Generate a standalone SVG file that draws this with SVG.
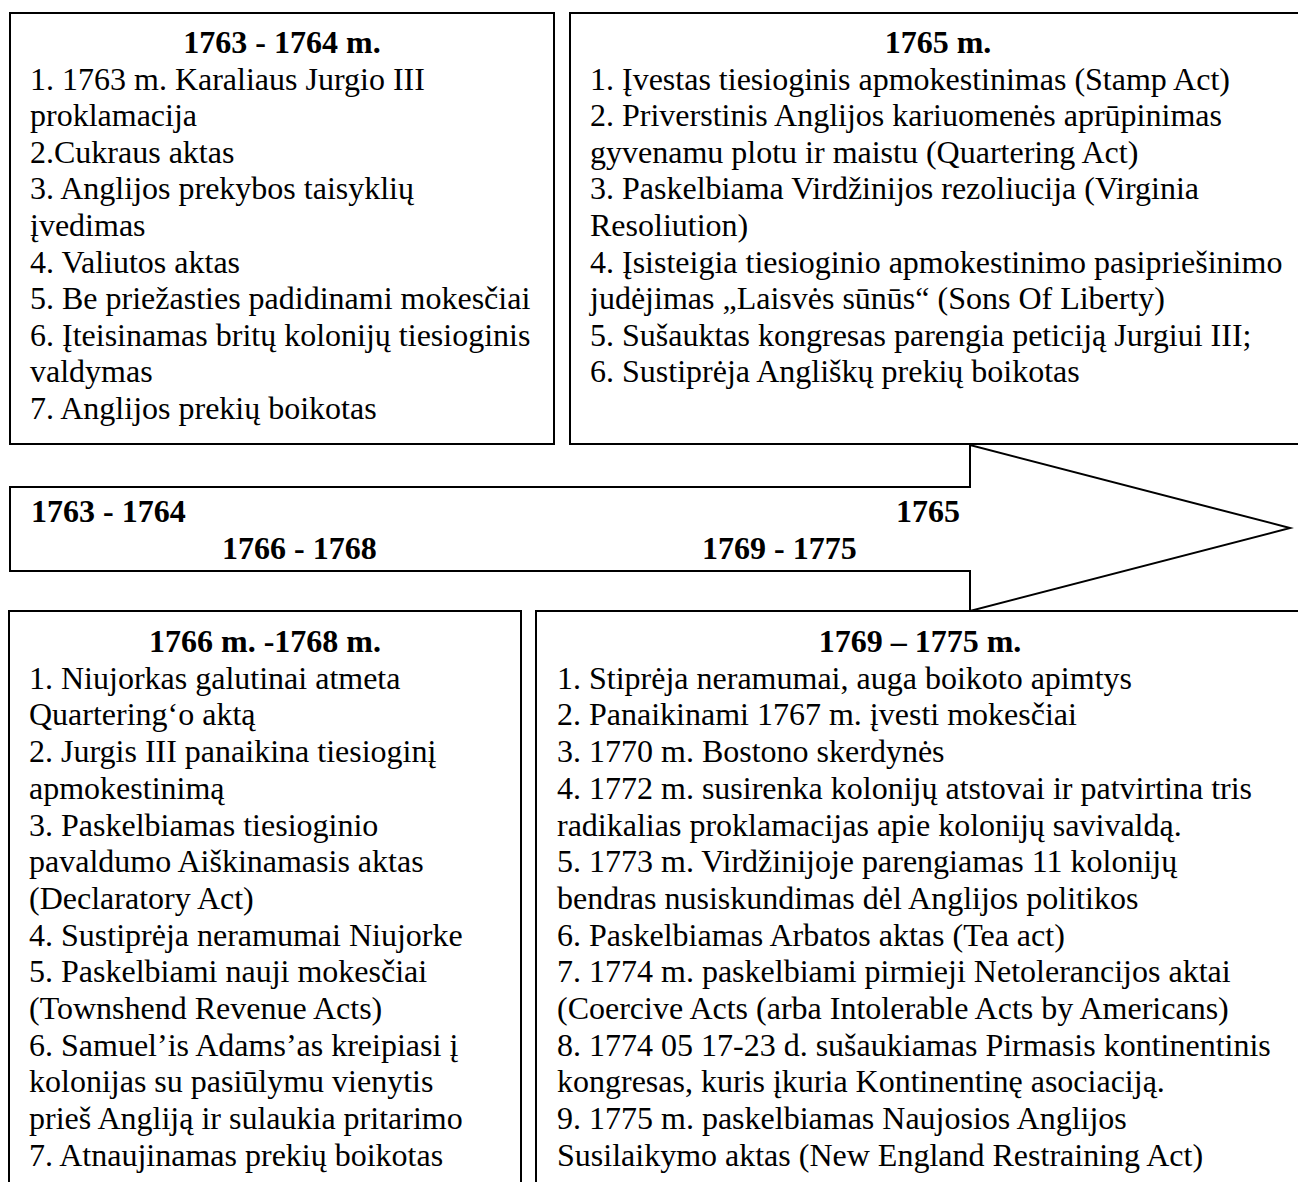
<svg xmlns="http://www.w3.org/2000/svg" width="1298" height="1182" viewBox="0 0 1298 1182">
<style>
.box{fill:#fff;stroke:#000;stroke-width:2}
.t{font-family:"Liberation Serif","Times New Roman",serif;font-size:32px;fill:#000}
.b{font-weight:bold}
.c{text-anchor:middle}
</style>
<rect x="0" y="0" width="1298" height="1182" fill="#fff"/>
<g id="arrow">
<polygon class="box" points="10,487 970,487 970,445 1290,528 970,611 970,571 10,571"/>
<text class="t b" x="31" y="522">1763 - 1764</text>
<text class="t b" x="896" y="522">1765</text>
<text class="t b" x="222" y="559">1766 - 1768</text>
<text class="t b" x="702" y="559">1769 - 1775</text>
</g>
<g id="box-1763-1764">
<rect class="box" x="10" y="13" width="544" height="431"/>
<text class="t b c" x="282" y="53">1763 - 1764 m.</text>
<text class="t" x="30" y="89.6">1. 1763 m. Karaliaus Jurgio III</text>
<text class="t" x="30" y="126.2">proklamacija</text>
<text class="t" x="30" y="162.8">2.Cukraus aktas</text>
<text class="t" x="30" y="199.4">3. Anglijos prekybos taisyklių</text>
<text class="t" x="30" y="236">įvedimas</text>
<text class="t" x="30" y="272.6">4. Valiutos aktas</text>
<text class="t" x="30" y="309.2">5. Be priežasties padidinami mokesčiai</text>
<text class="t" x="30" y="345.8">6. Įteisinamas britų kolonijų tiesioginis</text>
<text class="t" x="30" y="382.4">valdymas</text>
<text class="t" x="30" y="419">7. Anglijos prekių boikotas</text>
</g>
<g id="box-1765">
<rect class="box" x="570" y="13" width="740" height="431"/>
<text class="t b c" x="938" y="53">1765 m.</text>
<text class="t" x="590" y="89.6">1. Įvestas tiesioginis apmokestinimas (Stamp Act)</text>
<text class="t" x="590" y="126.2">2. Priverstinis Anglijos kariuomenės aprūpinimas</text>
<text class="t" x="590" y="162.8">gyvenamu plotu ir maistu (Quartering Act)</text>
<text class="t" x="590" y="199.4">3. Paskelbiama Virdžinijos rezoliucija (Virginia</text>
<text class="t" x="590" y="236">Resoliution)</text>
<text class="t" x="590" y="272.6">4. Įsisteigia tiesioginio apmokestinimo pasipriešinimo</text>
<text class="t" x="590" y="309.2">judėjimas „Laisvės sūnūs“ (Sons Of Liberty)</text>
<text class="t" x="590" y="345.8">5. Sušauktas kongresas parengia peticiją Jurgiui III;</text>
<text class="t" x="590" y="382.4">6. Sustiprėja Angliškų prekių boikotas</text>
</g>
<g id="box-1766-1768">
<rect class="box" x="9" y="611" width="512" height="590"/>
<text class="t b c" x="265" y="652">1766 m. -1768 m.</text>
<text class="t" x="29" y="688.7">1. Niujorkas galutinai atmeta</text>
<text class="t" x="29" y="725.4">Quartering‘o aktą</text>
<text class="t" x="29" y="762.1">2. Jurgis III panaikina tiesioginį</text>
<text class="t" x="29" y="798.8">apmokestinimą</text>
<text class="t" x="29" y="835.5">3. Paskelbiamas tiesioginio</text>
<text class="t" x="29" y="872.2">pavaldumo Aiškinamasis aktas</text>
<text class="t" x="29" y="908.9">(Declaratory Act)</text>
<text class="t" x="29" y="945.6">4. Sustiprėja neramumai Niujorke</text>
<text class="t" x="29" y="982.3">5. Paskelbiami nauji mokesčiai</text>
<text class="t" x="29" y="1019">(Townshend Revenue Acts)</text>
<text class="t" x="29" y="1055.7">6. Samuel’is Adams’as kreipiasi į</text>
<text class="t" x="29" y="1092.4">kolonijas su pasiūlymu vienytis</text>
<text class="t" x="29" y="1129.1">prieš Angliją ir sulaukia pritarimo</text>
<text class="t" x="29" y="1165.8">7. Atnaujinamas prekių boikotas</text>
</g>
<g id="box-1769-1775">
<rect class="box" x="536" y="611" width="774" height="590"/>
<text class="t b c" x="920" y="652">1769 – 1775 m.</text>
<text class="t" x="557" y="688.7">1. Stiprėja neramumai, auga boikoto apimtys</text>
<text class="t" x="557" y="725.4">2. Panaikinami 1767 m. įvesti mokesčiai</text>
<text class="t" x="557" y="762.1">3. 1770 m. Bostono skerdynės</text>
<text class="t" x="557" y="798.8">4. 1772 m. susirenka kolonijų atstovai ir patvirtina tris</text>
<text class="t" x="557" y="835.5">radikalias proklamacijas apie kolonijų savivaldą.</text>
<text class="t" x="557" y="872.2">5. 1773 m. Virdžinijoje parengiamas 11 kolonijų</text>
<text class="t" x="557" y="908.9">bendras nusiskundimas dėl Anglijos politikos</text>
<text class="t" x="557" y="945.6">6. Paskelbiamas Arbatos aktas (Tea act)</text>
<text class="t" x="557" y="982.3">7. 1774 m. paskelbiami pirmieji Netolerancijos aktai</text>
<text class="t" x="557" y="1019">(Coercive Acts (arba Intolerable Acts by Americans)</text>
<text class="t" x="557" y="1055.7">8. 1774 05 17-23 d. sušaukiamas Pirmasis kontinentinis</text>
<text class="t" x="557" y="1092.4">kongresas, kuris įkuria Kontinentinę asociaciją.</text>
<text class="t" x="557" y="1129.1">9. 1775 m. paskelbiamas Naujosios Anglijos</text>
<text class="t" x="557" y="1165.8">Susilaikymo aktas (New England Restraining Act)</text>
</g>
</svg>
